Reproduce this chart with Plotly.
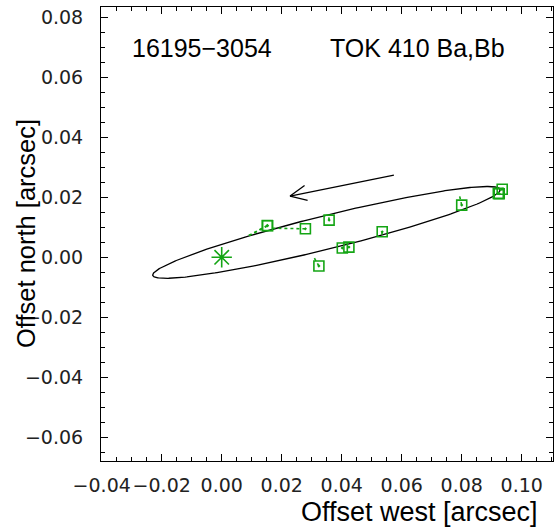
import numpy as np
import plotly.graph_objects as go

# Measured relative positions of TOK 410 Ba,Bb (offset west, offset north) in arcsec
obs_x = [0.0153, 0.0152, 0.0279, 0.0358, 0.0535, 0.0402, 0.0424, 0.0324, 0.0800, 0.0925, 0.0922, 0.0935]
obs_y = [0.0105, 0.0106, 0.0095, 0.0124, 0.0085, 0.0031, 0.0034, -0.0029, 0.0174, 0.0212, 0.0213, 0.0227]

# Orbit-predicted positions for the same epochs (ends of the residual lines)
pred_x = [0.0088, 0.0088, 0.0168, 0.0357, 0.0533, 0.0400, 0.0426, 0.0305, 0.0791, 0.0924, 0.0924, 0.0928]
pred_y = [0.0071, 0.0071, 0.0097, 0.0133, 0.0070, 0.0030, 0.0035, 0.0004, 0.0213, 0.0214, 0.0214, 0.0222]

# Apparent orbit ellipse: centre, half-width in x, conjugate-diameter slope, half vertical chord
ell_xc, ell_yc = 0.0349, 0.0083
ell_w, ell_m, ell_h = 0.0579, 0.245, 0.00575

# Direction-of-motion arrow (tail, head)
arrow_x = [0.0574, 0.0228]
arrow_y = [0.0274, 0.0204]

x_range = [-0.04023, 0.11043]
y_range = [-0.06790, 0.08343]
x_ticks = [-0.04, -0.02, 0.00, 0.02, 0.04, 0.06, 0.08, 0.10]
y_ticks = [-0.06, -0.04, -0.02, 0.00, 0.02, 0.04, 0.06, 0.08]

GREEN = "rgb(20,165,20)"
W, H = 559, 527
ML, MR, MT, MB = 101, 6, 7, 66

fig = go.Figure()

# orbit ellipse
t = np.linspace(0, 2 * np.pi, 400)
ex = ell_xc + ell_w * np.cos(t)
ey = ell_yc + ell_m * ell_w * np.cos(t) + ell_h * np.sin(t)
fig.add_trace(go.Scatter(x=ex, y=ey, mode="lines",
                         line=dict(color="black", width=1.3), hoverinfo="skip"))

# residual lines from observation to predicted position
rx, ry = [], []
for xo, yo, xp, yp in zip(obs_x, obs_y, pred_x, pred_y):
    rx += [xo, xp, None]
    ry += [yo, yp, None]
fig.add_trace(go.Scatter(x=rx, y=ry, mode="lines",
                         line=dict(color=GREEN, width=1.6, dash="dot"), hoverinfo="skip"))

# observations
fig.add_trace(go.Scatter(x=obs_x, y=obs_y, mode="markers",
                         marker=dict(symbol="square-open-dot", size=10, color=GREEN,
                                     line=dict(color=GREEN, width=1.6))))

# primary star at the origin
fig.add_trace(go.Scatter(x=[0], y=[0], mode="markers",
                         marker=dict(symbol="asterisk-open", size=17, color=GREEN,
                                     line=dict(color=GREEN, width=1.6))))

# motion arrow: shaft plus two head strokes
ax0, ax1 = arrow_x
ay0, ay1 = arrow_y
ang = np.arctan2(ay0 - ay1, ax0 - ax1)
hl = 0.0060
spread = np.radians(25)
hx = [ax1 + hl * np.cos(ang + spread), ax1, ax1 + hl * np.cos(ang - spread)]
hy = [ay1 + hl * np.sin(ang + spread), ay1, ay1 + hl * np.sin(ang - spread)]
fig.add_trace(go.Scatter(x=arrow_x + [None] + hx, y=arrow_y + [None] + hy, mode="lines",
                         line=dict(color="black", width=1.3), hoverinfo="skip"))

tickfont = dict(family="DejaVu Sans", size=19, color="#222222")
axis_common = dict(showline=True, linecolor="black", linewidth=1, mirror="ticks",
                   ticks="inside", ticklen=7, tickcolor="black", tickwidth=1,
                   showgrid=False, zeroline=False, tickfont=tickfont,
                   tickformat=".2f", tickangle=0,
                   minor=dict(dtick=0.005, ticks="inside", ticklen=4,
                              tickcolor="black", tickwidth=1, showgrid=False))

fig.update_xaxes(range=x_range, tickvals=x_ticks, ticklabelstandoff=7, **axis_common)
fig.update_yaxes(range=y_range, tickvals=y_ticks, ticklabelstandoff=13, **axis_common)

pw = W - ML - MR
ph = H - MT - MB


def px_to_paper(px, py):
    return (px - ML) / pw, 1 - (py - MT) / ph


annos = []
tx, ty = px_to_paper(540, 512)
annos.append(dict(text="Offset west [arcsec]", x=tx, y=ty, xref="paper", yref="paper",
                  xanchor="right", yanchor="middle", showarrow=False,
                  font=dict(family="Liberation Sans", size=27, color="black")))
tx, ty = px_to_paper(26, 234)
annos.append(dict(text="Offset north [arcsec]", x=tx, y=ty, xref="paper", yref="paper",
                  xanchor="center", yanchor="middle", showarrow=False, textangle=-90,
                  font=dict(family="Liberation Sans", size=25.5, color="black")))
tx, ty = px_to_paper(130, 48)
annos.append(dict(text="16195\u22123054", x=tx, y=ty, xref="paper", yref="paper",
                  xanchor="left", yanchor="middle", showarrow=False,
                  font=dict(family="Liberation Sans", size=25, color="black")))
tx, ty = px_to_paper(328, 48)
annos.append(dict(text="TOK 410 Ba,Bb", x=tx, y=ty, xref="paper", yref="paper",
                  xanchor="left", yanchor="middle", showarrow=False,
                  font=dict(family="Liberation Sans", size=25, color="black")))

fig.update_layout(width=W, height=H, margin=dict(l=ML, r=MR, t=MT, b=MB),
                  paper_bgcolor="white", plot_bgcolor="white", showlegend=False,
                  annotations=annos)

fig.write_html("out.html")
